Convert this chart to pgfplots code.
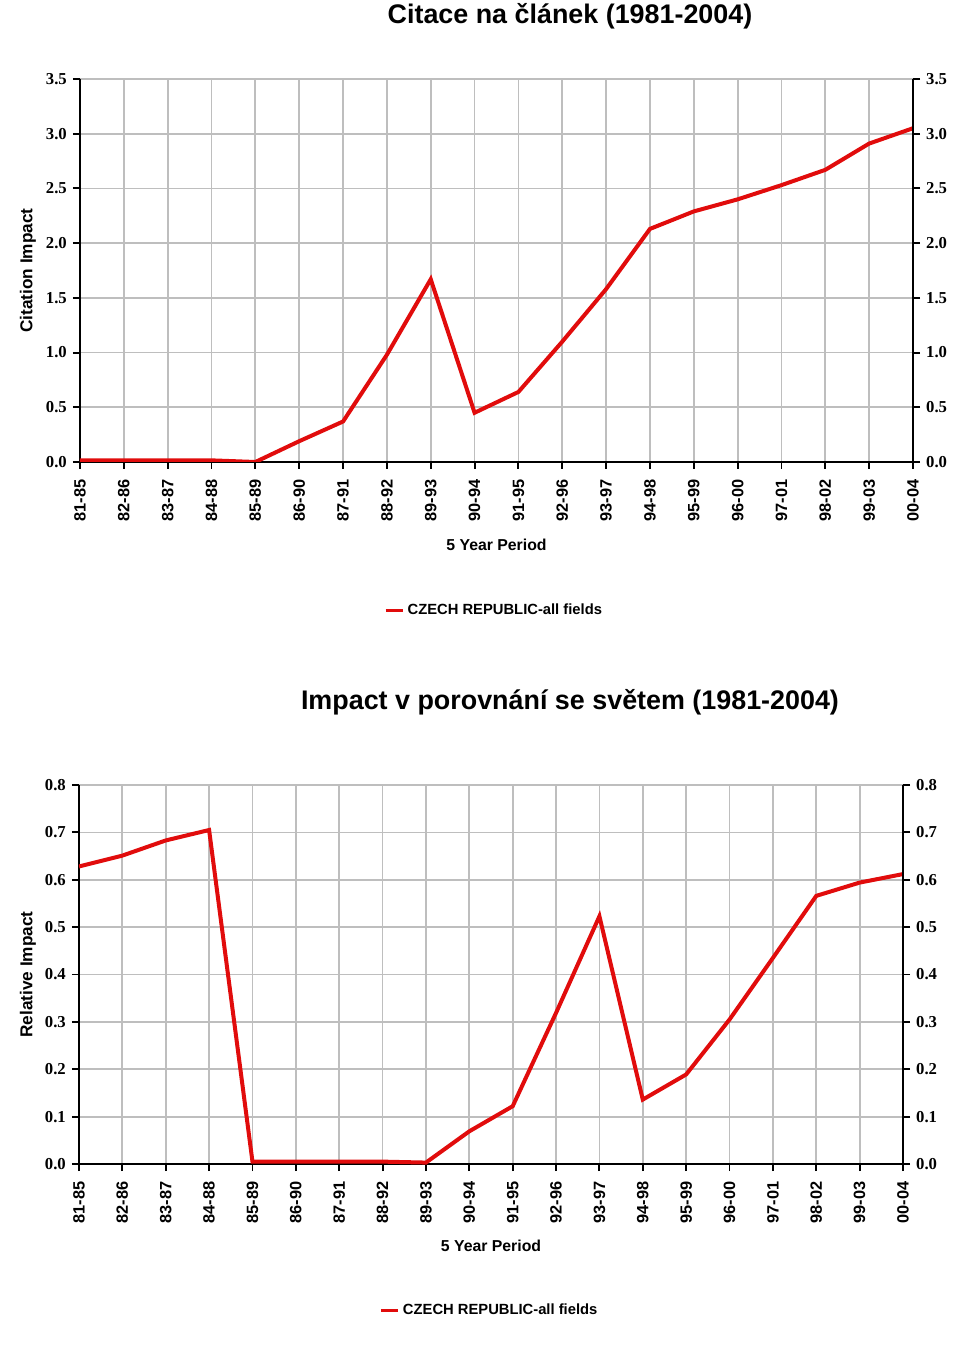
\documentclass[border=0pt]{standalone}
\usepackage{pgfplots}
\pgfplotsset{compat=1.18}
\usepackage{fontspec}
\setmainfont{Liberation Sans}
\newfontfamily\tickserif{Liberation Serif}
\definecolor{linered}{RGB}{225,12,12}
\definecolor{gridgray}{RGB}{190,190,190}

\pgfplotsset{
  basestyle/.style={
    scale only axis,
    xmin=0, xmax=19,
    xtick={0,...,19},
    xticklabels={81-85,82-86,83-87,84-88,85-89,86-90,87-91,88-92,89-93,90-94,91-95,92-96,93-97,94-98,95-99,96-00,97-01,98-02,99-03,00-04},
    tick align=outside,
    major tick length=1.4mm,
    axis line style={-, line width=1.1pt, black},
    every tick/.style={black, line width=1.1pt},
    /pgf/number format/assume math mode=true,
    /pgf/number format/.cd, fixed, fixed zerofill, precision=1, /pgfplots/.cd,
    yticklabel style={font=\tickserif\bfseries\fontsize{9.5}{10}\selectfont},
  },
  mainstyle/.style={
    basestyle,
    axis x line*=bottom,
    axis y line*=left,
    grid=major,
    major grid style={gridgray, line width=1pt},
    xticklabel style={rotate=90, anchor=east, font=\bfseries\fontsize{9.3}{10}\selectfont, xshift=-0.9mm},
    xlabel style={font=\bfseries\fontsize{9}{10}\selectfont},
    ylabel style={font=\bfseries\fontsize{9.8}{10}\selectfont},
    legend style={draw=none, fill=none, font=\bfseries\fontsize{8.4}{10}\selectfont,
      legend cell align=left},
    legend image code/.code={\draw[#1, line width=0.6mm] (0mm,0mm) -- (3.4mm,0mm);},
  },
  rightstyle/.style={
    basestyle,
    axis x line=none,
    axis y line*=right,
  },
}

\begin{document}
\begin{tikzpicture}
\path[use as bounding box] (0,0) rectangle (192mm,269.8mm);

% ---------- Top chart ----------
\node[font=\bfseries\fontsize{15.3}{17}\selectfont] at (114mm,266.6mm) {Citace na článek (1981-2004)};

\begin{axis}[mainstyle,
  at={(16mm,177.4mm)}, anchor=south west,
  width=166.6mm, height=76.6mm,
  ymin=0, ymax=3.5, ytick={0,0.5,...,3.5},
  xlabel={5 Year Period},
  xlabel style={at={(axis description cs:0.5,0)}, anchor=center, yshift=-16.6mm},
  ylabel={Citation Impact},
  ylabel style={at={(axis description cs:-0.0624,0.5)}, anchor=center},
  legend style={at={(0.498,-0.387)}, anchor=center},
]
\addplot[linered, line width=0.8mm, mark=none] coordinates {
(0,0.015) (1,0.015) (2,0.015) (3,0.015) (4,0.0) (5,0.19) (6,0.37) (7,0.98)
(8,1.67) (9,0.45) (10,0.64) (11,1.10) (12,1.58) (13,2.13) (14,2.29) (15,2.40)
(16,2.53) (17,2.67) (18,2.91) (19,3.05)
};
\addlegendentry{CZECH REPUBLIC-all fields}
\end{axis}
\begin{axis}[rightstyle,
  at={(16mm,177.4mm)}, anchor=south west,
  width=166.6mm, height=76.6mm,
  ymin=0, ymax=3.5, ytick={0,0.5,...,3.5},
]
\addplot[draw=none] coordinates {(0,0) (19,0)};
\end{axis}

% ---------- Bottom chart ----------
\node[font=\bfseries\fontsize{15.3}{17}\selectfont] at (114mm,129.4mm) {Impact v porovnání se světem (1981-2004)};

\begin{axis}[mainstyle,
  at={(15.8mm,37mm)}, anchor=south west,
  width=164.8mm, height=75.8mm,
  ymin=0, ymax=0.8, ytick={0,0.1,...,0.8},
  xlabel={5 Year Period},
  xlabel style={at={(axis description cs:0.5,0)}, anchor=center, yshift=-16.4mm},
  ylabel={Relative Impact},
  ylabel style={at={(axis description cs:-0.062,0.5)}, anchor=center},
  legend style={at={(0.499,-0.386)}, anchor=center},
]
\addplot[linered, line width=0.8mm, mark=none] coordinates {
(0,0.628) (1,0.651) (2,0.683) (3,0.705) (4,0.005) (5,0.005) (6,0.005) (7,0.005)
(8,0.003) (9,0.069) (10,0.122) (11,0.319) (12,0.523) (13,0.136) (14,0.189) (15,0.305)
(16,0.435) (17,0.566) (18,0.594) (19,0.612)
};
\addlegendentry{CZECH REPUBLIC-all fields}
\end{axis}
\begin{axis}[rightstyle,
  at={(15.8mm,37mm)}, anchor=south west,
  width=164.8mm, height=75.8mm,
  ymin=0, ymax=0.8, ytick={0,0.1,...,0.8},
]
\addplot[draw=none] coordinates {(0,0) (19,0)};
\end{axis}
\end{tikzpicture}
\end{document}
